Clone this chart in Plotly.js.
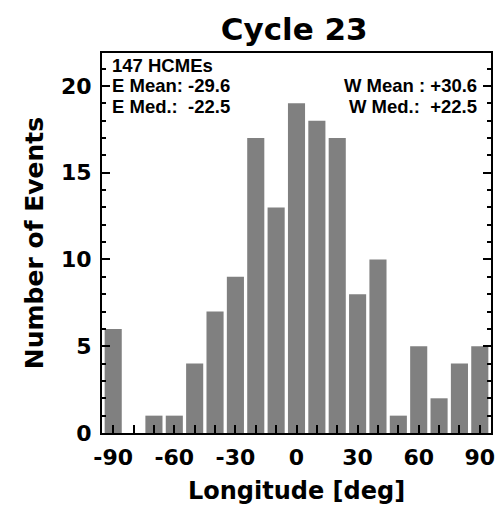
<!DOCTYPE html>
<html>
<head>
<meta charset="utf-8">
<script src="https://cdn.plot.ly/plotly-3.0.1.min.js"></script>
<style>html,body{margin:0;padding:0;background:#fff;}#chart{width:497px;height:507px;}</style>
</head>
<body>
<div id="chart"></div>
<script>
// Longitude bin centres (deg) and number of events per bin
const longitudes = [-90, -80, -70, -60, -50, -40, -30, -20, -10, 0, 10, 20, 30, 40, 50, 60, 70, 80, 90];
const counts     = [6, 0, 1, 1, 4, 7, 9, 17, 13, 19, 18, 17, 8, 10, 1, 5, 2, 4, 5];
const xTickVals  = [-90, -60, -30, 0, 30, 60, 90];
const xTickText  = ['-90', '-60', '-30', '0', '30', '60', '90'];
const yTickVals  = [0, 5, 10, 15, 20];
const titleText  = 'Cycle 23';
const statsLeft  = ['147 HCMEs', 'E Mean: -29.6', 'E Med.:\u00a0\u00a0-22.5'];
const statsRight = ['W Mean : +30.6', 'W Med.:\u00a0\u00a0+22.5'];

const boldFont = 'DejaVu Sans, Liberation Sans, Arial, sans-serif';
const noteFont = 'Liberation Sans, Arial, Helvetica, sans-serif';

const trace = {
  type: 'bar',
  x: longitudes,
  y: counts,
  marker: {color: '#808080', line: {width: 0}},
  hoverinfo: 'skip'
};

const annotations = [];
const leftY = [0.966, 0.914, 0.860];
statsLeft.forEach((t, i) => annotations.push({
  xref: 'paper', yref: 'paper', x: 0.0205, y: leftY[i],
  xanchor: 'left', yanchor: 'middle', showarrow: false, text: '<b>' + t + '</b>',
  font: {family: noteFont, size: 18.5, color: '#000'}
}));
const rightY = [0.914, 0.860];
statsRight.forEach((t, i) => annotations.push({
  xref: 'paper', yref: 'paper', x: 0.969, y: rightY[i],
  xanchor: 'right', yanchor: 'middle', showarrow: false, text: '<b>' + t + '</b>',
  font: {family: noteFont, size: 18.5, color: '#000'}
}));

const layout = {
  width: 497, height: 507,
  margin: {l: 102, r: 6, t: 53, b: 74, pad: 0},
  paper_bgcolor: '#fff', plot_bgcolor: '#fff',
  showlegend: false,
  bargap: 0.16,
  title: {
    text: '<b>' + titleText + '</b>',
    font: {family: boldFont, size: 31, color: '#000'},
    x: 0.592, xanchor: 'center', y: 0.943, yanchor: 'middle'
  },
  xaxis: {
    range: [-95.5, 95.5],
    tickmode: 'array', tickvals: xTickVals, ticktext: xTickText,
    ticks: 'inside', ticklen: 8, tickwidth: 2, tickcolor: '#000',
    minor: {dtick: 10, tick0: 0, ticks: 'inside', ticklen: 8, tickwidth: 2, tickcolor: '#000', showgrid: false},
    showline: true, linecolor: '#000', linewidth: 2, mirror: true,
    showgrid: false, zeroline: false,
    ticklabelstandoff: 4,
    tickfont: {family: boldFont, size: 22, color: '#000', weight: 'bold'},
    title: {text: '<b>Longitude [deg]</b>', font: {family: boldFont, size: 24, color: '#000'}, standoff: 13}
  },
  yaxis: {
    range: [0, 21.9],
    tickmode: 'array', tickvals: yTickVals,
    ticks: 'inside', ticklen: 8, tickwidth: 2, tickcolor: '#000',
    minor: {dtick: 1, tick0: 0, ticks: 'inside', ticklen: 4, tickwidth: 2, tickcolor: '#000', showgrid: false},
    showline: true, linecolor: '#000', linewidth: 2, mirror: 'ticks',
    showgrid: false, zeroline: false,
    ticklabelstandoff: 4,
    tickfont: {family: boldFont, size: 22, color: '#000', weight: 'bold'},
    title: {text: '<b>Number of Events</b>', font: {family: boldFont, size: 25, color: '#000'}, standoff: 10}
  },
  annotations: annotations
};

Plotly.newPlot('chart', [trace], layout, {staticPlot: true, displayModeBar: false});
</script>
</body>
</html>
